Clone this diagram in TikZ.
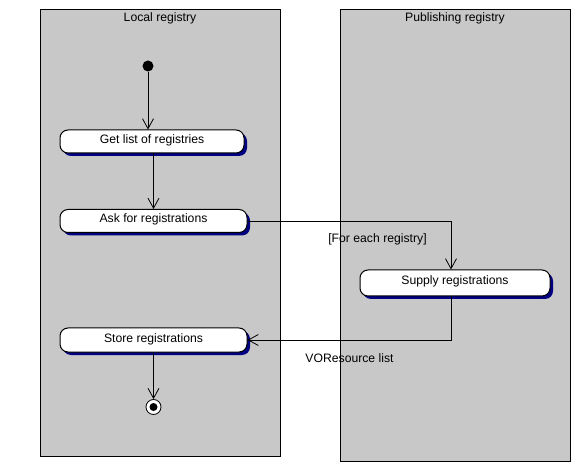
\documentclass[tikz,border=0pt]{standalone}
\usepackage{fontspec}
\setmainfont{Liberation Sans}
\usetikzlibrary{arrows.meta,shadows}
\definecolor{lanegrey}{RGB}{200,200,200}
\definecolor{shadownavy}{RGB}{0,0,128}
\begin{document}
\begin{tikzpicture}[x=1pt,y=-1pt,
  lane/.style={draw=black,line width=1pt,fill=lanegrey},
  activity/.style={draw=black,line width=1pt,fill=white,rounded corners=8pt,
    minimum height=24pt,inner sep=0pt,text height=8pt,text depth=4pt,
    font=\fontsize{12.2}{14}\selectfont,
    drop shadow={shadow xshift=3pt,shadow yshift=-3pt,fill=shadownavy,opacity=1}},
  lanetitle/.style={font=\fontsize{12.2}{14}\selectfont,inner sep=0pt},
  guard/.style={font=\fontsize{12.2}{14}\selectfont,inner sep=0pt},
  flow/.style={draw=black,line width=0.8pt,-{Straight Barb[length=10pt,width=11pt,line width=0.8pt]}},
  startdot/.style={circle,fill=black,minimum size=11pt,inner sep=0pt},
  enddot/.style={circle,draw=black,line width=0.8pt,fill=white,minimum size=15pt,inner sep=0pt}
]
\useasboundingbox (0,0) rectangle (581,462);
\fill[white] (0,0) rectangle (581,462);
% swimlanes
\node[lane,minimum width=240pt,minimum height=446pt,inner sep=0pt] (lanelocal) at (160,233) {};
\node[lane,minimum width=230pt,minimum height=451pt,inner sep=0pt] (lanepub) at (455,235.5) {};
\node[lanetitle] (tlocal) at (160,18) {Local registry};
\node[lanetitle] (tpub) at (455,18) {Publishing registry};
% nodes
\node[startdot] (init) at (148,66) {};
\node[activity,minimum width=184pt,minimum height=23pt] (get) at (152,141.5) {Get list of registries};
\node[activity,minimum width=187pt,minimum height=23pt] (ask) at (153.5,221) {Ask for registrations};
\node[activity,minimum width=190pt,minimum height=26pt] (supply) at (455,283) {Supply registrations};
\node[activity,minimum width=187pt,minimum height=24pt] (store) at (153.5,340) {Store registrations};
\node[enddot] (final) at (153.5,407) {};
\fill[black] (final) circle (4pt);
% flows
\draw[flow] (init) -- (init |- get.north);
\draw[flow] (ask.north |- get.south) -- (ask.north);
\draw[flow] (ask.east) -| ([xshift=-4pt]supply.north);
\draw[flow] ([xshift=-4pt]supply.south) |- (store.east);
\draw[flow] (store.south) -- (final);
% guards
\node[guard] (g1) at (377.5,239) {[For each registry]};
\node[guard] (g2) at (349.5,358) {VOResource list};
\end{tikzpicture}
\end{document}
